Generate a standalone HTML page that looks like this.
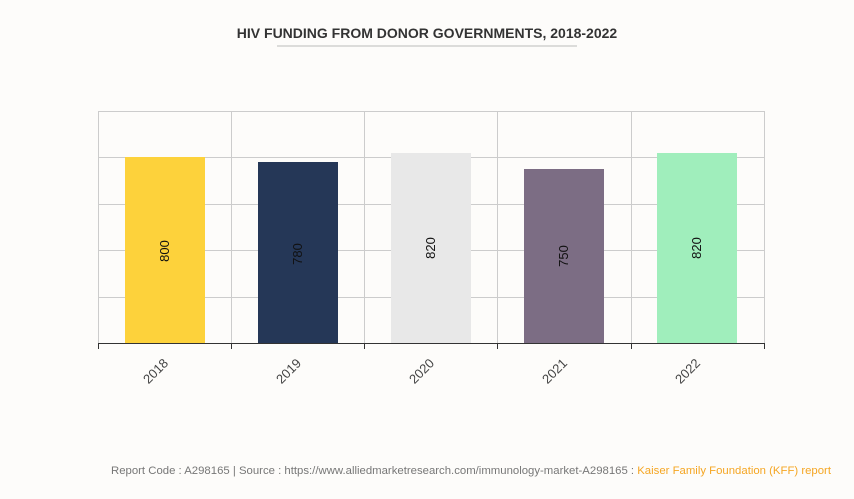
<!DOCTYPE html>
<html><head><meta charset="utf-8"><style>
body{margin:0;background:#fdfcfa;width:854px;height:494px;overflow:hidden;font-family:"Liberation Sans",sans-serif}
</style></head><body>
<svg width="854" height="494" xmlns="http://www.w3.org/2000/svg">
<rect width="854" height="494" fill="#fdfcfa"/>
<text x="427" y="38" text-anchor="middle" font-size="14" font-weight="bold" fill="#333">HIV FUNDING FROM DONOR GOVERNMENTS, 2018-2022</text>
<line x1="277" y1="46" x2="577" y2="46" stroke="#bbb" stroke-width="1"/>
<g stroke="#ccc" stroke-width="1">
<line x1="98" y1="111.5" x2="765" y2="111.5"/>
<line x1="98" y1="157.5" x2="765" y2="157.5"/>
<line x1="98" y1="204.5" x2="765" y2="204.5"/>
<line x1="98" y1="250.5" x2="765" y2="250.5"/>
<line x1="98" y1="297.5" x2="765" y2="297.5"/>
<line x1="98.5" y1="111" x2="98.5" y2="343"/>
<line x1="231.5" y1="111" x2="231.5" y2="343"/>
<line x1="364.5" y1="111" x2="364.5" y2="343"/>
<line x1="497.5" y1="111" x2="497.5" y2="343"/>
<line x1="631.5" y1="111" x2="631.5" y2="343"/>
<line x1="764.5" y1="111" x2="764.5" y2="343"/>
</g>
<rect x="125" y="157" width="80" height="186" fill="#fdd23b"/>
<rect x="258" y="162" width="80" height="181" fill="#253757"/>
<rect x="391" y="153" width="80" height="190" fill="#e8e8e8"/>
<rect x="524" y="169" width="80" height="174" fill="#7c6d84"/>
<rect x="657" y="153" width="80" height="190" fill="#a0eebc"/>
<g stroke="#333" stroke-width="1">
<line x1="98" y1="343.5" x2="765" y2="343.5"/>
<line x1="98.5" y1="343" x2="98.5" y2="349"/>
<line x1="231.5" y1="343" x2="231.5" y2="349"/>
<line x1="364.5" y1="343" x2="364.5" y2="349"/>
<line x1="497.5" y1="343" x2="497.5" y2="349"/>
<line x1="631.5" y1="343" x2="631.5" y2="349"/>
<line x1="764.5" y1="343" x2="764.5" y2="349"/>
</g>
<g font-size="13" fill="#111" text-anchor="middle">
<text transform="translate(169,251) rotate(-90)">800</text>
<text transform="translate(302,254) rotate(-90)">780</text>
<text transform="translate(435,248) rotate(-90)">820</text>
<text transform="translate(568,256) rotate(-90)">750</text>
<text transform="translate(701,248) rotate(-90)">820</text>
</g>
<g font-size="13" fill="#444" text-anchor="end">
<text transform="translate(169,364) rotate(-45)">2018</text>
<text transform="translate(302,364) rotate(-45)">2019</text>
<text transform="translate(435,364) rotate(-45)">2020</text>
<text transform="translate(568,364) rotate(-45)">2021</text>
<text transform="translate(701,364) rotate(-45)">2022</text>
</g>
<text x="111" y="474" font-size="11" fill="#777" textLength="720" lengthAdjust="spacingAndGlyphs">Report Code : A298165  |  Source : https://www.alliedmarketresearch.com/immunology-market-A298165 : <tspan fill="#f5a623">Kaiser Family Foundation (KFF) report</tspan></text>
</svg>
</body></html>
